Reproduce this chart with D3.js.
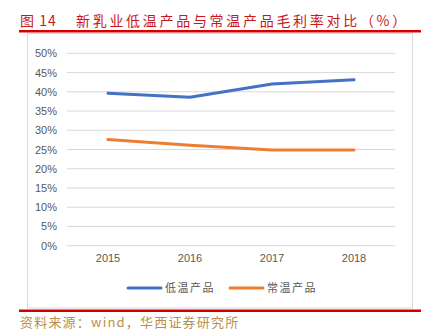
<!DOCTYPE html>
<html>
<head>
<meta charset="utf-8">
<script src="https://cdn.jsdelivr.net/npm/d3@7"></script>
<style>
  html, body { margin: 0; padding: 0; background: #fff; }
  svg { display: block; }
</style>
</head>
<body>
<svg id="chart" width="430" height="335"></svg>
<script>
// Gross margin by year for two product lines
const years = ["2015", "2016", "2017", "2018"];
const lowTemp = [39.6, 38.6, 42.0, 43.1];     // 低温产品
const ambient = [27.6, 26.1, 24.9, 24.9];     // 常温产品
const yTicks = [0, 5, 10, 15, 20, 25, 30, 35, 40, 45, 50];
const seriesNames = ["低温产品", "常温产品"];
const seriesColors = ["#4472C4", "#ED7D31"];

const svg = d3.select("#chart");
const cjk = "'Noto Sans CJK SC', 'Noto Sans', sans-serif";

// Title and rules
svg.append("text")
  .attr("x", 20).attr("y", 26)
  .attr("fill", "#c8171e")
  .attr("font-family", cjk)
  .attr("font-size", 14)
  .attr("letter-spacing", 1)
  .text("图 14");
svg.append("text")
  .attr("x", 76).attr("y", 26)
  .attr("fill", "#c8171e")
  .attr("font-family", cjk)
  .attr("font-size", 14)
  .attr("letter-spacing", 2.7)
  .text("新乳业低温产品与常温产品毛利率对比（%）");
svg.append("rect").attr("x", 19).attr("y", 30).attr("width", 402).attr("height", 2.5).attr("fill", "#d40000");

// Chart frame
svg.append("rect")
  .attr("x", 27.5).attr("y", 33.5).attr("width", 385).attr("height", 274.5)
  .attr("fill", "none").attr("stroke", "#d9d9d9").attr("stroke-width", 1);

svg.append("rect").attr("x", 19).attr("y", 309.5).attr("width", 402).attr("height", 2.5).attr("fill", "#d40000");

// Scales
const x = d3.scaleBand().domain(years).range([67, 395]);
const y = d3.scaleLinear().domain([0, 50]).range([245.7, 53.3]);

// Gridlines
svg.append("g")
  .selectAll("line")
  .data(yTicks)
  .join("line")
  .attr("x1", 67).attr("x2", 395)
  .attr("y1", d => y(d)).attr("y2", d => y(d))
  .attr("stroke", "#d9d9d9").attr("stroke-width", 1);

// Y axis labels
const yAxis = d3.axisLeft(y).tickValues(yTicks).tickFormat(d => d + "%").tickSize(0).tickPadding(10);
const gy = svg.append("g").attr("transform", "translate(67,0)").call(yAxis);
gy.select(".domain").remove();
gy.selectAll("text")
  .attr("fill", "#595959")
  .attr("font-family", "'Liberation Sans', Arial, sans-serif")
  .attr("font-size", 11);

// X axis labels
const xAxis = d3.axisBottom(x).tickSize(0).tickPadding(9);
const gx = svg.append("g").attr("transform", "translate(0,245.7)").call(xAxis);
gx.select(".domain").remove();
gx.selectAll("text")
  .attr("fill", "#595959")
  .attr("font-family", "'Liberation Sans', Arial, sans-serif")
  .attr("font-size", 11);

// Lines
const line = d3.line()
  .x((d, i) => x(years[i]) + x.bandwidth() / 2)
  .y(d => y(d));

[lowTemp, ambient].forEach((vals, k) => {
  svg.append("path")
    .datum(vals)
    .attr("d", line)
    .attr("fill", "none")
    .attr("stroke", seriesColors[k])
    .attr("stroke-width", 3)
    .attr("stroke-linecap", "round")
    .attr("stroke-linejoin", "round");
});

// Legend
const legendX = [128, 230];
seriesNames.forEach((name, k) => {
  const g = svg.append("g").attr("transform", `translate(${legendX[k]},288)`);
  g.append("line")
    .attr("x1", 0).attr("x2", 33).attr("y1", 0).attr("y2", 0)
    .attr("stroke", seriesColors[k]).attr("stroke-width", 3).attr("stroke-linecap", "round");
  g.append("text")
    .attr("x", 37).attr("y", 4)
    .attr("fill", "#595959")
    .attr("font-family", cjk)
    .attr("font-size", 11)
    .attr("letter-spacing", 1.5)
    .text(name);
});

// Source note
svg.append("text")
  .attr("x", 20).attr("y", 327)
  .attr("fill", "#b8904f")
  .attr("font-family", cjk)
  .attr("font-size", 13)
  .attr("letter-spacing", 1.2)
  .text("资料来源：wind，华西证券研究所");
</script>
</body>
</html>
